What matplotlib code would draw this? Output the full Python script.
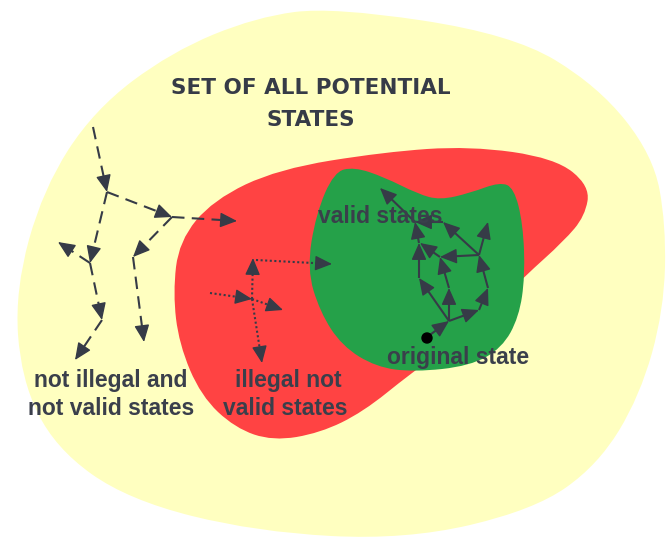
import numpy as np
import matplotlib
matplotlib.use("Agg")
import matplotlib.pyplot as plt
from matplotlib.path import Path
from matplotlib.patches import PathPatch, Circle

# Outline points of the three regions (pixel coordinates, y downwards)
all_states = [(333, 7), (512, 34), (598, 86), (653, 155), (666, 224), (664, 310),
              (640, 396), (598, 465), (534, 510), (406, 540), (256, 532), (128, 500),
              (55, 448), (21, 379), (15, 290), (43, 189), (94, 110), (171, 52), (256, 17)]
illegal_states = [(173, 293), (179, 241), (213, 200), (278, 169), (384, 152), (470, 146),
                  (555, 158), (590, 186), (585, 216), (564, 241), (525, 276), (470, 330),
                  (410, 374), (363, 412), (320, 433), (273, 441), (235, 428), (201, 396),
                  (179, 344)]
valid_states = [(307, 269), (316, 214), (334, 172), (354, 167), (384, 177), (418, 194),
                (440, 200), (470, 193), (500, 182), (514, 188), (523, 224), (525, 276),
                (519, 317), (502, 348), (470, 366), (414, 372), (376, 367), (342, 346),
                (320, 312)]

# transitions
dashed_edges = [((93, 127), (107, 192)), ((107, 192), (172, 217)), ((172, 217), (237, 221)),
                ((172, 217), (133, 257)), ((133, 257), (144, 342)), ((107, 192), (90, 263)),
                ((90, 263), (58, 242)), ((90, 263), (102, 320)), ((102, 320), (75, 360))]
dotted_edges = [((210, 293), (252, 299)), ((252, 299), (283, 310)), ((252, 299), (253, 258)),
                ((256, 260), (332, 264)), ((252, 299), (262, 363))]
solid_edges = [((427, 337), (449, 321)), ((449, 321), (479, 310)), ((479, 310), (488, 288)),
               ((488, 288), (479, 255)), ((479, 255), (488, 222)), ((479, 255), (443, 222)),
               ((479, 255), (440, 257)), ((449, 321), (449, 288)), ((449, 288), (440, 257)),
               ((440, 257), (420, 243)), ((449, 321), (419, 278)), ((419, 278), (419, 243)),
               ((419, 243), (415, 222)), ((415, 222), (380, 188)), ((443, 222), (415, 222))]
start_state = (427, 338)

labels = [("valid states", 380, 223), ("original state", 458, 364),
          ("not illegal and", 111, 387), ("not valid states", 111, 415),
          ("illegal not", 288, 387), ("valid states", 285, 415)]
title_lines = [("SET OF ALL POTENTIAL", 311, 94), ("STATES", 311, 126)]

ink = "#363b47"
head_px = 16


def blob(pts):
    pts = np.array(pts, float)
    mids = (pts + np.roll(pts, -1, axis=0)) / 2
    verts = [mids[-1]]
    codes = [Path.MOVETO]
    for p, m in zip(pts, mids):
        verts += [p, m]
        codes += [Path.CURVE3, Path.CURVE3]
    return Path(verts, codes)


def arrow(a, b, ls):
    a, b = np.array(a, float), np.array(b, float)
    u = (b - a) / np.hypot(*(b - a))
    back = b - u * head_px
    ax.plot([a[0], back[0] + u[0] * 3], [a[1], back[1] + u[1] * 3], color=ink, lw=1.5,
            ls=ls, solid_capstyle="butt", dash_capstyle="butt")
    ax.annotate("", xy=b, xytext=back,
                arrowprops=dict(arrowstyle="-|>,head_length=0.95,head_width=0.42",
                                color=ink, lw=1.0, mutation_scale=11,
                                shrinkA=0, shrinkB=0))


fig = plt.figure(figsize=(6.67, 5.38), dpi=100)
ax = fig.add_axes([0, 0, 1, 1])
ax.set_xlim(0, 667)
ax.set_ylim(538, 0)
ax.axis("off")

ax.add_patch(PathPatch(blob(all_states), fc="#ffffc0", ec="none"))
ax.add_patch(PathPatch(blob(illegal_states), fc="#ff4343", ec="none"))
ax.add_patch(PathPatch(blob(valid_states), fc="#25a149", ec="none"))

for edges, ls in [(dashed_edges, (0, (6, 3.5))), (dotted_edges, (0, (1, 1.2))), (solid_edges, "-")]:
    for a, b in edges:
        arrow(a, b, ls)

ax.add_patch(Circle(start_state, 5, color="black", zorder=5))

for txt, x, y in labels:
    ax.text(x, y, txt, ha="center", va="baseline", fontsize=16.5, fontweight="bold",
            family="Liberation Sans", color="#3a3f4b", zorder=6)
for txt, x, y in title_lines:
    ax.text(x, y, txt, ha="center", va="baseline", fontsize=15.5, fontweight="heavy",
            family="DejaVu Sans", color=ink, zorder=6)

fig.savefig("out.png", dpi=100, facecolor="white")
